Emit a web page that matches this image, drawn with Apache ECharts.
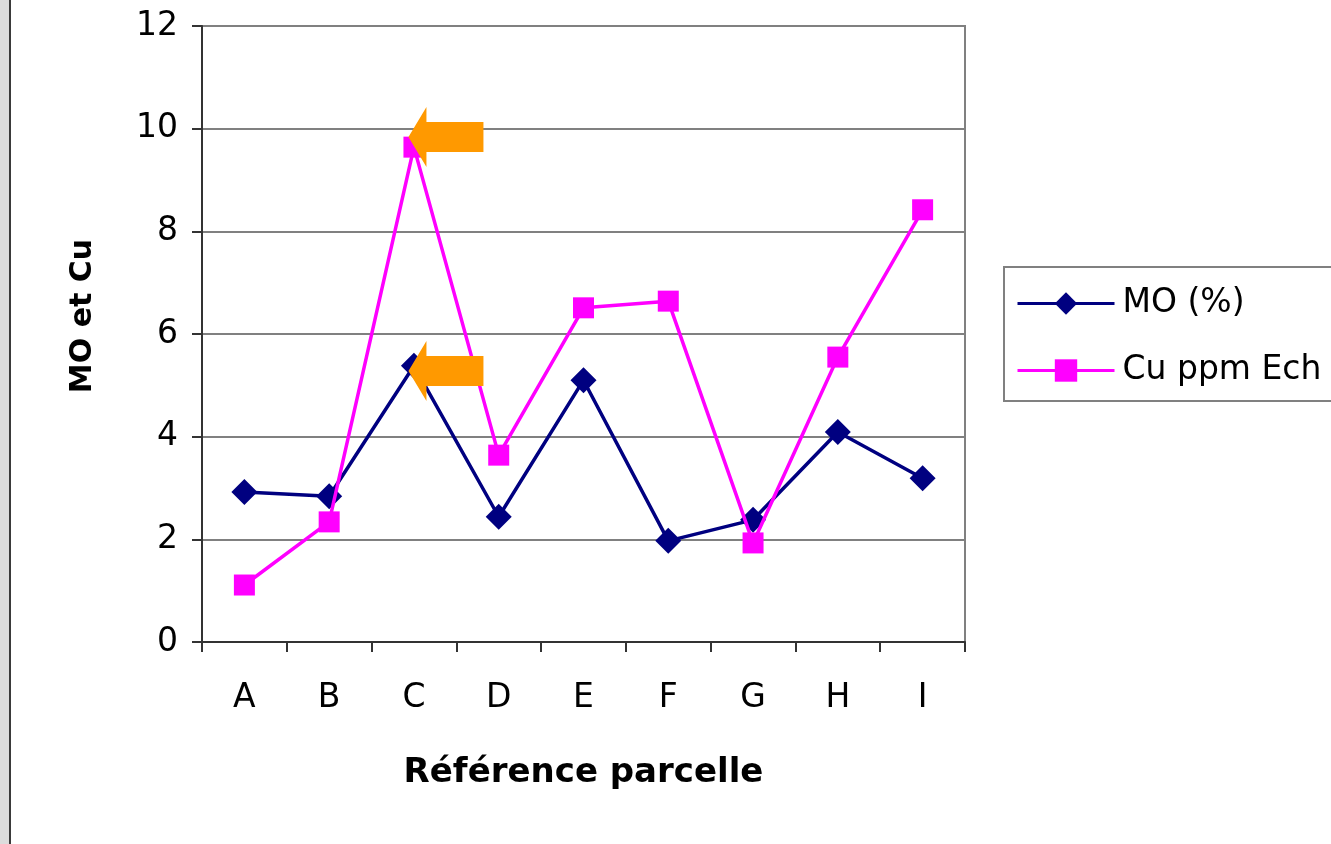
<!DOCTYPE html>
<html>
<head>
<meta charset="utf-8">
<script src="https://cdn.jsdelivr.net/npm/echarts@6/dist/echarts.min.js"></script>
<style>
  html, body { margin: 0; padding: 0; background: #ffffff; }
  #chart { width: 1331px; height: 844px; }
</style>
</head>
<body>
<div id="chart"></div>
<script>
// Plot categories and measured values per parcel
const categories = ['A', 'B', 'C', 'D', 'E', 'F', 'G', 'H', 'I'];
const moValues = [2.92, 2.84, 5.38, 2.44, 5.10, 1.97, 2.38, 4.09, 3.19];
const cuValues = [1.11, 2.34, 9.64, 3.64, 6.51, 6.64, 1.93, 5.55, 8.42];
const yTicks = [0, 2, 4, 6, 8, 10, 12];

// Orange pointers highlighting parcel C on each series
const cuArrow = { cat: 'C', value: 9.84 };
const moArrow = { cat: 'C', value: 5.28 };

const FONT = '"DejaVu Sans", Arial, sans-serif';
const arrowPath = 'path://M0,30 L18,0 L18,15 L75,15 L75,45 L18,45 L18,60 Z';

function arrowMark(a) {
  return {
    silent: true,
    symbol: arrowPath,
    symbolSize: [75, 60],
    symbolKeepAspect: false,
    symbolOffset: [32, 0],
    itemStyle: { color: '#FF9900' },
    label: { show: false },
    z: 10,
    data: [{ coord: [a.cat, a.value] }]
  };
}

const chart = echarts.init(document.getElementById('chart'), null, { renderer: 'canvas' });

chart.setOption({
  backgroundColor: '#ffffff',
  animation: false,
  textStyle: { fontFamily: FONT },
  graphic: [
    { type: 'rect', left: 0, top: 0, shape: { width: 9, height: 844 }, style: { fill: '#dcdcdc' }, z: 0 },
    { type: 'rect', left: 9, top: 0, shape: { width: 2, height: 844 }, style: { fill: '#3a3a3a' }, z: 0 }
  ],
  grid: {
    left: 202, right: 366, top: 26, bottom: 202,
    show: true, borderColor: '#808080', borderWidth: 2, backgroundColor: 'transparent'
  },
  legend: {
    orient: 'vertical',
    left: 1004, top: 267,
    padding: [20, 40, 14, 12],
    itemGap: 34,
    itemWidth: 97, itemHeight: 28,
    borderColor: '#808080', borderWidth: 2,
    backgroundColor: '#ffffff',
    lineStyle: { width: 3 },
    textStyle: { fontSize: 33, color: '#000', fontFamily: FONT, padding: [0, 0, 0, 3] },
    data: ['MO (%)', 'Cu ppm Ech']
  },
  xAxis: {
    type: 'category',
    data: categories,
    boundaryGap: true,
    name: 'Référence parcelle',
    nameLocation: 'middle',
    nameGap: 114,
    nameTextStyle: { fontSize: 34, fontWeight: 'bold', color: '#000', fontFamily: FONT },
    axisLine: { lineStyle: { color: '#333', width: 2 } },
    axisTick: { show: true, interval: 0, length: 10, lineStyle: { color: '#333', width: 2 } },
    axisLabel: { fontSize: 33, color: '#000', margin: 40, fontFamily: FONT },
    splitLine: { show: false }
  },
  yAxis: {
    type: 'value',
    min: yTicks[0], max: yTicks[yTicks.length - 1], interval: 2,
    name: 'MO et Cu',
    nameLocation: 'middle',
    nameGap: 104,
    nameRotate: 90,
    nameTextStyle: { fontSize: 30, fontWeight: 'bold', color: '#000', fontFamily: FONT, padding: [0, 0, 0, 36] },
    axisLine: { show: true, lineStyle: { color: '#333', width: 2 } },
    axisTick: { show: true, length: 10, lineStyle: { color: '#333', width: 2 } },
    axisLabel: { fontSize: 33, color: '#000', margin: 24, fontFamily: FONT },
    splitLine: { show: true, lineStyle: { color: '#808080', width: 2 } }
  },
  series: [
    {
      name: 'MO (%)',
      type: 'line',
      data: moValues,
      symbol: 'diamond',
      symbolSize: 26,
      itemStyle: { color: '#000080' },
      lineStyle: { color: '#000080', width: 3.5 },
      z: 3,
      markPoint: arrowMark(moArrow)
    },
    {
      name: 'Cu ppm Ech',
      type: 'line',
      data: cuValues,
      symbol: 'rect',
      symbolSize: 21,
      itemStyle: { color: '#FF00FF' },
      lineStyle: { color: '#FF00FF', width: 3.5 },
      z: 4,
      markPoint: arrowMark(cuArrow)
    }
  ]
});
</script>
</body>
</html>
